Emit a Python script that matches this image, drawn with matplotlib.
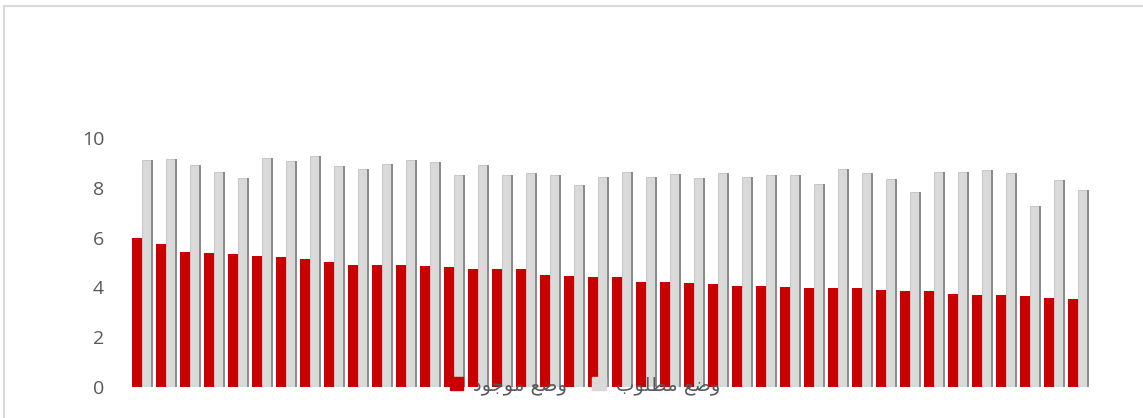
import matplotlib
matplotlib.use('Agg')
import matplotlib.pyplot as plt
from matplotlib.patches import Patch
from matplotlib.lines import Line2D
import numpy as np

# data (40 items)
existing = [5.97, 5.73, 5.43, 5.37, 5.34, 5.26, 5.22, 5.13, 5.01, 4.91,
            4.91, 4.89, 4.86, 4.83, 4.75, 4.74, 4.74, 4.51, 4.47, 4.40,
            4.40, 4.23, 4.22, 4.18, 4.14, 4.07, 4.06, 4.02, 3.99, 3.98,
            3.98, 3.90, 3.86, 3.85, 3.72, 3.71, 3.71, 3.65, 3.56, 3.55]
desired = [9.10, 9.16, 8.90, 8.63, 8.38, 9.18, 9.08, 9.28, 8.86, 8.74,
           8.94, 9.12, 9.02, 8.50, 8.93, 8.50, 8.58, 8.51, 8.10, 8.43,
           8.63, 8.42, 8.54, 8.39, 8.58, 8.45, 8.51, 8.51, 8.17, 8.74,
           8.58, 8.37, 7.83, 8.63, 8.63, 8.71, 8.59, 7.28, 8.33, 7.91]
yticks = [0, 2, 4, 6, 8, 10]
label_existing = 'وضع موجود'
label_desired = 'وضع مطلوب'

# matplotlib does no arabic shaping: pick presentation forms by hand
FORMS = {
    'و': ('\uFEED', '\uFEEE', None, None),
    'ض': ('\uFEBD', '\uFEBE', '\uFEBF', '\uFEC0'),
    'ع': ('\uFEC9', '\uFECA', '\uFECB', '\uFECC'),
    'م': ('\uFEE1', '\uFEE2', '\uFEE3', '\uFEE4'),
    'ج': ('\uFE9D', '\uFE9E', '\uFE9F', '\uFEA0'),
    'د': ('\uFEA9', '\uFEAA', None, None),
    'ط': ('\uFEC1', '\uFEC2', '\uFEC3', '\uFEC4'),
    'ل': ('\uFEDD', '\uFEDE', '\uFEDF', '\uFEE0'),
    'ب': ('\uFE8F', '\uFE90', '\uFE91', '\uFE92'),
}

def shape(s):
    out = []
    for k, ch in enumerate(s):
        if ch not in FORMS:
            out.append(ch)
            continue
        f = FORMS[ch]
        prev = s[k-1] if k > 0 else ''
        nxt = s[k+1] if k+1 < len(s) else ''
        jp = prev in FORMS and FORMS[prev][2] is not None
        jn = f[2] is not None and nxt in FORMS
        if jp and jn:
            out.append(f[3])
        elif jp:
            out.append(f[1])
        elif jn:
            out.append(f[2])
        else:
            out.append(f[0])
    return ''.join(reversed(out))

W, H = 1143, 418
fig = plt.figure(figsize=(W/100, H/100), dpi=100)
ax = fig.add_axes([118/W, (H-387)/H, (1100-118)/W, (387-138)/H])

x = np.arange(len(existing))
red = '#c80000'
grey = '#d9d9d9'
ax.bar(x - 0.40, existing, width=0.39, align='edge', color=red, zorder=3)
ax.bar(x - 0.01, desired, width=0.37, align='edge', color=grey,
       edgecolor='#c2c2c2', linewidth=0.6, zorder=2)
# darker right side of the grey bars (pseudo 3d look)
ax.bar(x + 0.36, desired, width=0.10, align='edge', color='#8c8c8c', zorder=2)

ax.set_xlim(-1.0, 39.92)
ax.set_ylim(0, 10)
ax.set_yticks(yticks)
ax.set_xticks([])
for s in ax.spines.values():
    s.set_visible(False)
ax.tick_params(axis='y', length=0, pad=10, labelsize=14, labelcolor='#595959')
for t in ax.get_yticklabels():
    t.set_fontfamily('Open Sans')

handles = [Patch(color=red), Patch(color=grey)]
fig.legend(handles, [shape(label_existing), shape(label_desired)],
           loc='center', bbox_to_anchor=(585/W, (H-385)/H), ncol=2,
           frameon=False, handlelength=0.7, handleheight=0.7,
           handletextpad=0.5, columnspacing=1.3,
           prop={'family': ['DejaVu Sans'], 'size': 14},
           labelcolor='#595959')

# light frame of the chart area
fig.add_artist(Line2D([4/W, 1], [(H-6)/H, (H-6)/H], color='#d9d9d9', lw=1.5, transform=fig.transFigure))
fig.add_artist(Line2D([4/W, 4/W], [0, (H-6)/H], color='#d9d9d9', lw=1.5, transform=fig.transFigure))

fig.savefig('out.png', dpi=100)
